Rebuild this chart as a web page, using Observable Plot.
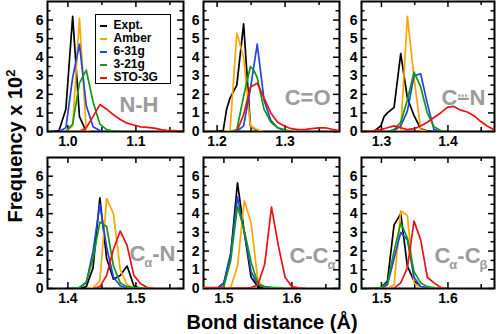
<!DOCTYPE html>
<html><head><meta charset="utf-8">
<script src="https://cdn.jsdelivr.net/npm/d3@7"></script>
<script src="https://cdn.jsdelivr.net/npm/@observablehq/plot@0.6"></script>
<style>
body{margin:0;background:#fff;}
#chart{position:relative;width:498px;height:334px;overflow:hidden;font-family:"Liberation Sans",Arial,sans-serif;}
#legend{position:absolute;left:95px;top:14px;width:74px;height:68px;border:1.5px solid #000;background:#fff;box-sizing:content-box;z-index:5;}
#legend .row{height:13px;line-height:13px;font-weight:bold;font-size:12px;white-space:nowrap;display:flex;align-items:center;overflow:visible;}
#legend .sw{display:inline-block;width:7px;height:2px;margin-left:3.5px;margin-right:7px;}
.title{position:absolute;font-weight:bold;font-size:20px;white-space:nowrap;z-index:6;}
</style></head>
<body><div id="chart"></div>
<script>
// ---------- data ----------
const SERIES = ["Expt.", "Amber", "6-31g", "3-21g", "STO-3G"];
const yTicks = [0, 1, 2, 3, 4, 5, 6];

// N-H
const NH_ticks = [1.0, 1.1];
const NH_expt = [[0.977,0],[0.987,0.05],[0.997,1.2],[1.007,6.2],[1.017,0.8],[1.027,0],[1.037,0]];
const NH_amber = [[0.997,0],[1.007,0.3],[1.017,6.1],[1.027,0.05],[1.037,0]];
const NH_631 = [[0.987,0],[0.997,0.2],[1.007,2.9],[1.017,4.7],[1.027,1.4],[1.037,0.25],[1.047,0.05],[1.057,0]];
const NH_321 = [[0.997,0],[1.007,0.4],[1.017,2.6],[1.027,3.3],[1.037,1.6],[1.047,0.4],[1.057,0.1],[1.067,0.02],[1.077,0]];
const NH_sto = [[1.017,0],[1.027,0.2],[1.037,0.8],[1.047,1.45],[1.057,1.2],[1.067,0.9],[1.077,0.65],[1.087,0.45],[1.097,0.35],[1.107,0.25],[1.117,0.22],[1.127,0.18],[1.137,0.1],[1.147,0.05],[1.157,0.05],[1.167,0.02]];

// C=O
const CO_ticks = [1.2, 1.3];
const CO_expt = [[1.189,0],[1.199,0],[1.209,0.05],[1.214,1.2],[1.219,1.8],[1.229,2.5],[1.239,5.8],[1.249,0.3],[1.259,0.05],[1.269,0]];
const CO_amber = [[1.209,0],[1.219,0.05],[1.229,5.3],[1.239,4.0],[1.249,0.3],[1.259,0.1],[1.269,0]];
const CO_631 = [[1.229,0],[1.239,0.3],[1.249,2.3],[1.259,4.7],[1.269,1.7],[1.279,0.6],[1.289,0.2],[1.299,0.05],[1.309,0]];
const CO_321 = [[1.219,0],[1.229,0.1],[1.239,1.9],[1.249,3.5],[1.254,3.3],[1.259,2.9],[1.269,1.2],[1.279,0.5],[1.289,0.2],[1.299,0.1],[1.309,0]];
const CO_sto = [[1.229,0],[1.239,0.9],[1.249,2.4],[1.259,2.6],[1.269,1.8],[1.279,1.0],[1.289,0.5],[1.299,0.3],[1.309,0.15],[1.319,0.1],[1.329,0.1],[1.339,0.15],[1.349,0.2],[1.359,0.2],[1.369,0.12],[1.379,0.05]];

// C-N (partial double bond)
const CN_ticks = [1.3, 1.4];
const CN_expt = [[1.27,0],[1.279,0],[1.289,0.02],[1.299,0.3],[1.304,0.8],[1.309,1.0],[1.314,1.15],[1.319,1.3],[1.329,4.2],[1.339,1.8],[1.349,0.85],[1.359,0.15],[1.369,0.02],[1.379,0]];
const CN_amber = [[1.319,0],[1.329,0.05],[1.339,6.2],[1.349,2.9],[1.359,0.1],[1.369,0]];
const CN_631 = [[1.309,0],[1.319,0.05],[1.329,0.3],[1.339,1.1],[1.349,3.0],[1.359,3.1],[1.369,1.5],[1.379,0.1],[1.389,0]];
const CN_321 = [[1.309,0],[1.319,0.1],[1.329,0.5],[1.339,1.7],[1.349,3.2],[1.359,2.4],[1.369,1.0],[1.379,0.25],[1.389,0.05],[1.399,0]];
const CN_sto = [[1.27,0],[1.279,0.02],[1.289,0.05],[1.299,0.1],[1.309,0.2],[1.319,0.3],[1.329,0.2],[1.339,0.1],[1.349,0.15],[1.359,0.3],[1.369,0.5],[1.379,0.75],[1.389,1.0],[1.399,1.3],[1.409,1.35],[1.419,1.15],[1.429,1.05],[1.439,0.85],[1.449,0.55],[1.459,0.3],[1.469,0.1]];

// Ca-N
const CaN_ticks = [1.4, 1.5];
const CaN_expt = [[1.397,0],[1.417,0],[1.427,0.1],[1.437,1.1],[1.447,4.85],[1.457,1.6],[1.467,0.5],[1.477,0.7],[1.487,1.2],[1.497,0.15],[1.507,0]];
const CaN_amber = [[1.427,0],[1.437,0.05],[1.447,0.4],[1.457,4.8],[1.467,4.0],[1.477,1.0],[1.487,0.2],[1.497,0.03],[1.507,0]];
const CaN_631 = [[1.407,0],[1.417,0.05],[1.427,0.3],[1.437,2.0],[1.447,4.5],[1.457,2.2],[1.467,0.6],[1.477,0.15],[1.487,0.03],[1.497,0]];
const CaN_321 = [[1.407,0],[1.417,0.05],[1.427,0.35],[1.437,1.6],[1.447,3.55],[1.457,3.3],[1.467,1.2],[1.477,0.3],[1.487,0.1],[1.497,0.05],[1.507,0.03],[1.517,0]];
const CaN_sto = [[1.437,0],[1.447,0.1],[1.457,0.7],[1.467,2.1],[1.477,3.07],[1.487,2.3],[1.497,0.7],[1.507,0.25],[1.517,0.05],[1.527,0]];

// C-Ca
const CCa_ticks = [1.5, 1.6];
const CCa_expt = [[1.49,0],[1.50,0.3],[1.51,1.8],[1.52,5.65],[1.53,3.0],[1.54,0.6],[1.55,0.1],[1.56,0]];
const CCa_amber = [[1.50,0],[1.51,0.05],[1.52,1.2],[1.53,4.7],[1.54,3.5],[1.55,0.4],[1.56,0.05],[1.57,0]];
const CCa_631 = [[1.49,0],[1.50,0.3],[1.51,1.9],[1.52,4.9],[1.53,3.0],[1.54,0.9],[1.55,0.2],[1.56,0.1],[1.57,0.05],[1.58,0]];
const CCa_321 = [[1.49,0],[1.50,0.1],[1.51,1.5],[1.52,4.4],[1.53,3.1],[1.54,1.4],[1.55,0.25],[1.56,0.08],[1.57,0.05],[1.58,0.05],[1.59,0]];
const CCa_sto = [[1.47,0.05],[1.48,0.05],[1.49,0.05],[1.50,0.03],[1.51,0.02],[1.52,0.02],[1.53,0.02],[1.54,0.05],[1.55,0.2],[1.56,1.3],[1.57,4.35],[1.58,2.3],[1.59,0.6],[1.60,0.1],[1.61,0.03],[1.62,0]];

// Ca-Cb
const CaCb_ticks = [1.5, 1.6];
const CaCb_expt = [[1.479,0],[1.489,0],[1.499,0.05],[1.509,0.4],[1.519,3.4],[1.529,4.0],[1.539,1.2],[1.549,0.4],[1.559,0.1],[1.569,0]];
const CaCb_amber = [[1.509,0],[1.519,0.2],[1.529,4.15],[1.539,3.9],[1.549,0.3],[1.559,0.05],[1.569,0]];
const CaCb_631 = [[1.499,0],[1.509,0.2],[1.519,1.6],[1.529,3.0],[1.539,2.6],[1.549,0.6],[1.559,0.1],[1.569,0.05],[1.579,0]];
const CaCb_321 = [[1.489,0],[1.499,0.05],[1.509,0.3],[1.519,2.0],[1.529,3.5],[1.539,2.7],[1.549,0.9],[1.559,0.3],[1.569,0.1],[1.579,0.05],[1.589,0]];
const CaCb_sto = [[1.499,0],[1.519,0.02],[1.529,0.3],[1.539,1.1],[1.549,3.6],[1.559,2.6],[1.569,0.6],[1.579,0.3],[1.589,0.05],[1.599,0]];

// ---------- layout & style ----------
const COLORS = ["#000000", "#ffa500", "#2244dd", "#119911", "#ee1111"];
const FONT = '"Liberation Sans", Arial, sans-serif';
const colLeft = [47, 203, 361], colRight = [183, 339, 494];
const rowTop = [1, 157], rowBottom = [131, 288];

const panels = [
  {label: "N-H",   domain: [0.97, 1.17], ticks: NH_ticks,   series: [NH_expt, NH_amber, NH_631, NH_321, NH_sto],        col: 0, row: 0, dx: -25, dy: -27},
  {label: "C=O",   domain: [1.18, 1.38], ticks: CO_ticks,   series: [CO_expt, CO_amber, CO_631, CO_321, CO_sto],        col: 1, row: 0, dx: -9,  dy: -34},
  {label: "C–N",   domain: [1.27, 1.47], ticks: CN_ticks,   series: [CN_expt, CN_amber, CN_631, CN_321, CN_sto],        col: 2, row: 0, dx: -9,  dy: -34, partial: true},
  {label: "Cα-N",  domain: [1.37, 1.57], ticks: CaN_ticks,  series: [CaN_expt, CaN_amber, CaN_631, CaN_321, CaN_sto],   col: 0, row: 1, dx: -8,  dy: -35},
  {label: "C-Cα",  domain: [1.47, 1.67], ticks: CCa_ticks,  series: [CCa_expt, CCa_amber, CCa_631, CCa_321, CCa_sto],   col: 1, row: 1, dx: -4,  dy: -33},
  {label: "Cα-Cβ", domain: [1.47, 1.67], ticks: CaCb_ticks, series: [CaCb_expt, CaCb_amber, CaCb_631, CaCb_321, CaCb_sto], col: 2, row: 1, dx: -7, dy: -33}
];

const chart = document.getElementById("chart");
const SVGNS = "http://www.w3.org/2000/svg";

function richLabel(el) {
  const s = el.textContent;
  if (!/[αβ]/.test(s)) return;
  el.textContent = "";
  let sub = false;
  for (const ch of s) {
    const t = document.createElementNS(SVGNS, "tspan");
    t.textContent = ch;
    if (ch === "α" || ch === "β") {
      t.setAttribute("font-size", "13px");
      t.setAttribute("dy", sub ? "0" : "6");
      t.setAttribute("dx", "-1");
      sub = true;
    } else if (sub) {
      t.setAttribute("dy", "-6");
      sub = false;
    }
    el.appendChild(t);
  }
}

for (const p of panels) {
  const fw = colRight[p.col] - colLeft[p.col];
  const fh = rowBottom[p.row] - rowTop[p.row];
  const mL = 24, mR = 3, mT = 1, mB = 22;
  const [lo, hi] = p.domain;
  const minor = [];
  for (let k = Math.ceil(lo / 0.05 - 1e-9); k * 0.05 <= hi + 1e-9; k++) {
    const v = +(k * 0.05).toFixed(2);
    if (!p.ticks.some(t => Math.abs(t - v) < 1e-6)) minor.push(v);
  }
  const yMinor = yTicks.map(d => d + 0.5);
  const svg = Plot.plot({
    width: fw + mL + mR, height: fh + mT + mB,
    marginLeft: mL, marginRight: mR, marginTop: mT, marginBottom: mB,
    style: {fontFamily: FONT, fontSize: "14px", fontWeight: "bold", background: "transparent", overflow: "visible", color: "#000"},
    x: {domain: p.domain, axis: null},
    y: {domain: [0, 7], axis: null},
    marks: [
      Plot.frame({stroke: "#000", strokeWidth: 2}),
      Plot.tickY(yTicks, {y: d => d, insetRight: fw - 6, strokeWidth: 1.5}),
      Plot.tickY(yTicks, {y: d => d, insetLeft: fw - 6, strokeWidth: 1.5}),
      Plot.tickY(yMinor, {y: d => d, insetRight: fw - 3.5, strokeWidth: 1.5}),
      Plot.tickY(yMinor, {y: d => d, insetLeft: fw - 3.5, strokeWidth: 1.5}),
      Plot.tickX(p.ticks, {x: d => d, insetTop: fh - 6, strokeWidth: 1.5}),
      Plot.tickX(p.ticks, {x: d => d, insetBottom: fh - 6, strokeWidth: 1.5}),
      Plot.tickX(minor, {x: d => d, insetTop: fh - 4, strokeWidth: 1.5}),
      Plot.tickX(minor, {x: d => d, insetBottom: fh - 4, strokeWidth: 1.5}),
      Plot.axisY({ticks: yTicks, anchor: "left", tickSize: 0, tickPadding: 4, tickFormat: d3.format("d"), fontSize: 14, fontWeight: "bold"}),
      Plot.axisX({ticks: p.ticks, anchor: "bottom", tickSize: 0, tickPadding: 5, tickFormat: d3.format(".1f"), fontSize: 14, fontWeight: "bold"}),
      ...p.series.map((s, i) => Plot.line(s, {x: d => d[0], y: d => d[1], stroke: COLORS[i], strokeWidth: 1.7, clip: true})),
      Plot.text([p.label], {text: d => d, frameAnchor: "bottom-right", dx: p.dx, dy: p.dy,
        textAnchor: "end", lineAnchor: "middle", fill: "#9c9c9c", fontSize: 22, fontWeight: "bold"})
    ]
  });
  svg.style.position = "absolute";
  svg.style.left = (colLeft[p.col] - mL) + "px";
  svg.style.top = (rowTop[p.row] - mT) + "px";
  chart.appendChild(svg);

  const label = Array.from(svg.querySelectorAll("text")).find(t => t.textContent === p.label);
  if (label) {
    richLabel(label);
    if (p.partial) {
      const a = label.getStartPositionOfChar(1), b = label.getEndPositionOfChar(1);
      const ln = document.createElementNS(SVGNS, "line");
      ln.setAttribute("x1", a.x + 1); ln.setAttribute("x2", b.x - 1);
      ln.setAttribute("y1", a.y - 9); ln.setAttribute("y2", a.y - 9);
      ln.setAttribute("stroke", "#9c9c9c"); ln.setAttribute("stroke-width", "2.2");
      ln.setAttribute("stroke-dasharray", "2,1.3");
      const tr = label.getAttribute("transform");
      if (tr) ln.setAttribute("transform", tr);
      label.parentNode.appendChild(ln);
    }
  }
}

// legend
const legend = document.createElement("div");
legend.id = "legend";
const inner = document.createElement("div");
inner.style.paddingTop = "4px";
SERIES.forEach((s, i) => {
  const row = document.createElement("div");
  row.className = "row";
  const sw = document.createElement("span");
  sw.className = "sw";
  sw.style.background = COLORS[i];
  row.appendChild(sw);
  row.appendChild(document.createTextNode(s));
  inner.appendChild(row);
});
legend.appendChild(inner);
chart.appendChild(legend);

// axis titles
const yt = document.createElement("div");
yt.className = "title";
yt.innerHTML = "Frequency x 10<sup style=\"font-size:13px;vertical-align:7px;line-height:0\">2</sup>";
yt.style.left = "15px"; yt.style.top = "146px";
yt.style.transform = "translate(-50%,-50%) rotate(-90deg)";
chart.appendChild(yt);

const xt = document.createElement("div");
xt.className = "title";
xt.textContent = "Bond distance (Å)";
xt.style.left = "272px"; xt.style.top = "322px";
xt.style.transform = "translate(-50%,-50%)";
chart.appendChild(xt);
</script>
</body></html>
